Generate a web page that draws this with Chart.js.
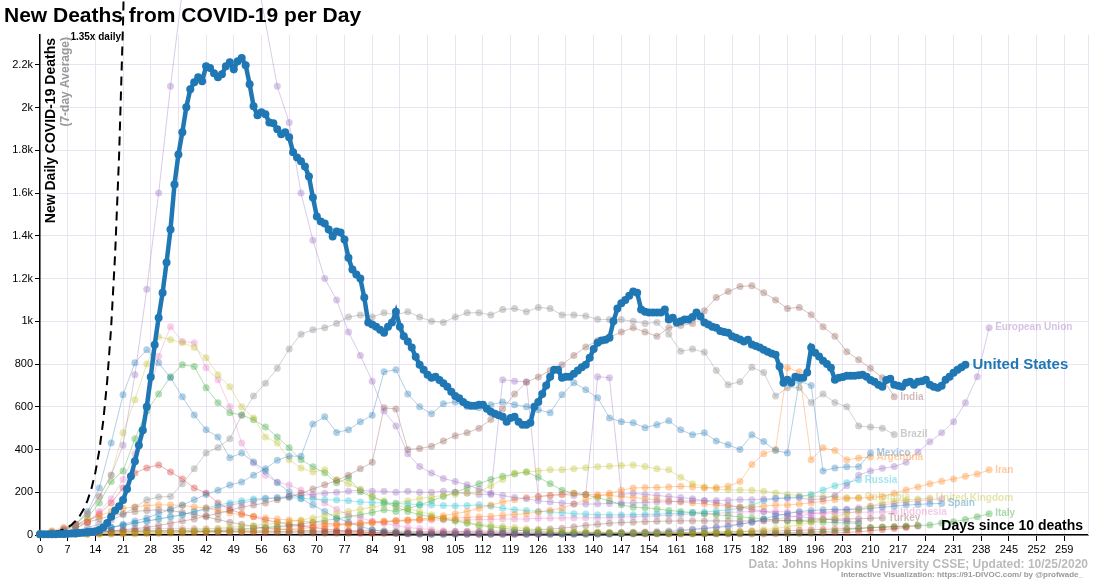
<!DOCTYPE html>
<html>
<head>
<meta charset="utf-8">
<title>New Deaths from COVID-19 per Day</title>
<script src="https://cdn.jsdelivr.net/npm/chart.js@4"></script>
<style>
  html, body { margin: 0; padding: 0; background: #fff; }
  #wrap { position: relative; width: 1108px; height: 580px; }
</style>
</head>
<body>
<div id="wrap"><canvas id="chart" width="1108" height="580"></canvas></div>
<script>
// ===== Data (7-day average of new deaths, by days since 10 deaths)
const X_MAX = 265;
const Y_MAX = 2340;
const X_TICK_STEP = 7;
const Y_TICK_STEP = 200;
const STEP = 3; // other countries: one value every 3 days

// United States, one value per day (day 0..234)
const usDeaths = [
  3, 3, 4, 4, 4, 5, 5, 6, 7, 8,
  9, 11, 13, 15, 18, 23, 35, 56, 85, 115,
  135, 164, 215, 275, 345, 420, 490, 600, 740, 890,
  1017, 1134, 1275, 1430, 1640, 1781, 1885, 2002, 2086, 2119,
  2142, 2124, 2194, 2185, 2161, 2142, 2156, 2194, 2213, 2180,
  2217, 2232, 2199, 2110, 2007, 1964, 1978, 1969, 1931, 1927,
  1899, 1875, 1885, 1861, 1791, 1767, 1749, 1725, 1678, 1580,
  1491, 1467, 1458, 1430, 1397, 1420, 1416, 1383, 1298, 1242,
  1219, 1200, 1111, 994, 985, 975, 961, 947, 975, 994,
  1045, 975, 930, 905, 877, 834, 797, 773, 750, 736,
  741, 725, 710, 694, 670, 650, 640, 623, 609, 605,
  605, 609, 609, 591, 577, 567, 560, 553, 530, 548,
  553, 530, 516, 516, 525, 600, 623, 660, 700, 741,
  773, 773, 736, 741, 741, 755, 770, 785, 797, 830,
  870, 900, 910, 914, 923, 1000, 1060, 1085, 1100, 1120,
  1139, 1134, 1055, 1045, 1041, 1041, 1041, 1041, 1055, 1008,
  1017, 994, 1000, 1008, 1008, 1020, 1041, 1022, 994, 985,
  975, 970, 955, 950, 947, 930, 923, 915, 905, 914,
  891, 885, 877, 867, 858, 850, 844, 788, 713, 727,
  713, 741, 736, 736, 760, 877, 853, 835, 815, 800,
  783, 727, 736, 740, 745, 745, 745, 748, 750, 741,
  725, 717, 703, 694, 725, 731, 703, 699, 694, 713,
  717, 703, 717, 720, 727, 703, 694, 689, 699, 727,
  741, 759, 773, 785, 797
];

// "1.35x daily" reference line, day 0..22
const doublingRef = [4, 6, 8, 11, 15, 20, 27, 36, 48, 65, 88, 119, 161, 217, 293, 396, 535, 722, 975, 1316, 1776, 2398, 3237];

// Other countries, values at day 0, 3, 6, ...
const euDeaths = [
  5, 10, 25, 50, 100, 180, 280, 420, 750, 1150,
  1600, 2100, 2550, 2950, 3200, 3250, 3150, 2950, 2700, 2400,
  2100, 1930, 1600, 1380, 1200, 1100, 950, 840, 720, 580,
  510, 380, 320, 290, 265, 250, 235, 215, 195, 185,
  175, 170, 160, 155, 150, 145, 145, 145, 148, 150,
  150, 152, 155, 155, 158, 160, 160, 162, 163, 165,
  165, 168, 170, 172, 175, 165, 170, 185, 230, 280,
  300, 312, 320, 340, 389, 436, 478, 530, 619, 741,
  970
];
const indiaDeaths = [
  2, 3, 4, 6, 8, 12, 18, 25, 30, 35,
  45, 55, 65, 75, 90, 100, 115, 130, 140, 150,
  165, 180, 195, 215, 235, 255, 280, 310, 340, 595,
  590, 400, 405, 415, 440, 465, 478, 500, 540, 590,
  660, 715, 740, 770, 797, 840, 880, 910, 925, 950,
  970, 950, 930, 970, 980, 990, 1050, 1111, 1139, 1163,
  1167, 1134, 1100, 1060, 1065, 1031, 975, 930, 858, 820,
  780, 736, 647
];
const brazilDeaths = [
  3, 6, 12, 20, 35, 50, 70, 95, 130, 165,
  178, 180, 240, 310, 384, 410, 450, 560, 650, 710,
  780, 870, 940, 960, 970, 990, 1020, 1030, 1020, 1040,
  1030, 1045, 1020, 1000, 995, 1020, 1040, 1040, 1030, 1055,
  1060, 1045, 1065, 1060, 1030, 1030, 1025, 1010, 1008, 1008,
  1000, 990, 995, 940, 860, 870, 855, 770, 703, 717,
  785, 760, 650, 689, 689, 620, 660, 620, 600, 510,
  505, 500, 470
];
const mexicoDeaths = [
  3, 5, 8, 12, 18, 25, 35, 50, 65, 80,
  100, 120, 140, 165, 190, 210, 234, 248, 280, 310,
  350, 370, 368, 520, 553, 480, 492, 530, 560, 764,
  773, 660, 600, 567, 614, 623, 600, 595, 609, 623,
  610, 600, 586, 572, 656, 713, 680, 642, 548, 530,
  525, 502, 516, 535, 492, 469, 478, 440, 422, 400,
  469, 437, 395, 384, 720, 700, 300, 314, 319, 319,
  384
];
const argentinaDeaths = [
  1, 2, 2, 3, 3, 4, 4, 5, 5, 6,
  7, 8, 9, 10, 12, 14, 16, 18, 20, 22,
  25, 28, 30, 35, 40, 45, 50, 55, 60, 65,
  68, 70, 72, 75, 78, 80, 82, 85, 88, 92,
  96, 100, 108, 116, 125, 145, 165, 180, 195, 210,
  220, 222, 222, 225, 228, 225, 220, 222, 228, 250,
  330, 380, 400, 783, 764, 352, 408, 395, 352, 360,
  365
];
const iranDeaths = [
  10, 20, 35, 50, 70, 90, 110, 125, 131, 138,
  141, 141, 138, 131, 127, 115, 103, 95, 88, 80,
  75, 70, 65, 60, 55, 50, 48, 50, 55, 60,
  65, 70, 75, 80, 90, 100, 110, 125, 140, 155,
  165, 175, 180, 185, 190, 195, 190, 188, 185, 180,
  175, 170, 165, 160, 155, 150, 145, 140, 135, 130,
  130, 135, 140, 140, 145, 150, 158, 165, 170, 172,
  176, 180, 195, 211, 225, 240, 252, 262, 275, 285,
  305
];
const russiaDeaths = [
  3, 5, 8, 12, 18, 25, 35, 45, 55, 65,
  75, 85, 95, 110, 125, 140, 150, 160, 168, 172,
  173, 175, 172, 168, 165, 164, 160, 155, 152, 150,
  148, 145, 142, 140, 138, 136, 138, 141, 135, 125,
  118, 115, 110, 108, 105, 100, 98, 95, 95, 94,
  95, 96, 98, 100, 102, 105, 108, 112, 118, 125,
  140, 160, 172, 175, 178, 190, 211, 230, 245, 258
];
const colombiaDeaths = [
  2, 3, 4, 5, 6, 8, 10, 12, 14, 16,
  18, 20, 22, 25, 28, 32, 36, 40, 45, 50,
  55, 62, 70, 80, 90, 100, 110, 120, 130, 140,
  150, 160, 170, 178, 185, 190, 198, 202, 230, 260,
  290, 295, 300, 305, 305, 310, 315, 319, 322, 325,
  328, 320, 310, 305, 270, 240, 225, 215, 211, 211,
  210, 205, 197, 190, 185, 182, 180, 178, 176, 175
];
const ukDeaths = [
  5, 10, 20, 50, 100, 180, 281, 478, 633, 800,
  928, 914, 900, 877, 830, 750, 694, 600, 548, 459,
  431, 352, 314, 295, 305, 260, 240, 215, 180, 160,
  140, 125, 110, 95, 80, 70, 60, 50, 45, 40,
  35, 30, 25, 22, 20, 18, 15, 14, 13, 12,
  12, 12, 12, 11, 11, 11, 12, 13, 14, 15,
  20, 25, 30, 38, 48, 60, 72, 85, 100, 115,
  135, 150, 158, 163, 168, 173
];
const spainDeaths = [
  3, 8, 20, 50, 110, 220, 431, 656, 806, 867,
  806, 736, 647, 562, 492, 459, 361, 384, 342, 300,
  244, 202, 170, 140, 110, 80, 60, 40, 25, 15,
  10, 5, 3, 2, 2, 3, 3, 3, 3, 3,
  3, 3, 3, 3, 3, 3, 3, 4, 5, 6,
  8, 10, 12, 15, 20, 25, 30, 35, 40, 50,
  60, 75, 90, 100, 110, 115, 118, 120, 118, 120,
  125, 130, 135, 140, 143, 146, 148
];
const italyDeaths = [
  5, 10, 20, 40, 80, 150, 250, 300, 450, 580,
  660, 741, 797, 788, 689, 619, 572, 562, 539, 506,
  459, 408, 352, 319, 291, 244, 267, 202, 178, 155,
  131, 110, 95, 85, 75, 65, 55, 45, 38, 32,
  25, 20, 16, 14, 12, 11, 10, 10, 9, 9,
  9, 8, 8, 8, 8, 7, 7, 7, 7, 7,
  8, 9, 10, 11, 12, 14, 16, 18, 25, 30,
  35, 38, 40, 42, 44, 47, 56, 62, 72, 85,
  100
];
const franceDeaths = [
  3, 8, 15, 30, 60, 110, 170, 260, 380, 600,
  836, 975, 905, 900, 783, 727, 600, 431, 337, 280,
  248, 234, 211, 180, 150, 120, 95, 80, 65, 55,
  45, 35, 30, 25, 20, 17, 15, 13, 12, 12,
  12, 12, 12, 12, 12, 12, 12, 12, 12, 13,
  14, 15, 17, 20, 24, 28, 32, 38, 45, 52,
  60, 68, 75, 82, 90, 98, 105, 112, 120, 128,
  135, 140, 148, 155, 160, 165, 170
];
const belgiumDeaths = [
  3, 8, 15, 30, 60, 100, 150, 220, 290, 314,
  328, 295, 262, 220, 197, 150, 120, 100, 85, 70,
  60, 50, 42, 35, 28, 22, 18, 15, 12, 10,
  8, 7, 6, 5, 5, 5, 4, 4, 4, 4,
  4, 4, 4, 4, 5, 5, 5, 5, 5, 5,
  5, 5, 5, 5, 5, 5, 5, 5, 5, 5,
  5, 5, 6, 6, 7, 8, 9, 10, 12, 15,
  20, 25, 30, 35
];
const peruDeaths = [
  3, 5, 8, 12, 18, 25, 35, 45, 55, 65,
  75, 85, 95, 110, 120, 130, 140, 150, 160, 170,
  175, 180, 185, 190, 195, 200, 205, 210, 205, 205,
  200, 205, 200, 200, 205, 200, 195, 190, 190, 727,
  720, 717, 180, 185, 190, 185, 190, 741, 736, 190,
  195, 190, 185, 180, 175, 170, 160, 150, 140, 130,
  120, 110, 100, 90, 85, 80, 75, 70, 65, 60
];
const southAfricaDeaths = [
  1, 2, 3, 4, 5, 6, 7, 8, 9, 10,
  11, 12, 14, 15, 17, 20, 23, 26, 30, 35,
  40, 45, 52, 60, 68, 76, 85, 95, 105, 118,
  110, 125, 140, 160, 180, 200, 220, 240, 260, 275,
  285, 295, 270, 240, 210, 195, 188, 175, 160, 141,
  130, 127, 122, 115, 110, 105, 100, 95, 90, 85,
  80, 75, 70, 68, 65, 62, 60, 58, 56, 55
];
const indonesiaDeaths = [
  3, 6, 10, 12, 15, 18, 20, 22, 25, 28,
  30, 30, 30, 30, 28, 28, 30, 30, 32, 35,
  38, 40, 42, 45, 50, 52, 55, 58, 60, 62,
  65, 65, 68, 70, 70, 70, 70, 72, 72, 75,
  75, 75, 78, 78, 80, 80, 80, 80, 82, 85,
  85, 88, 90, 92, 95, 98, 100, 102, 105, 108,
  110, 110, 110, 108, 105, 103, 102, 103, 105, 106,
  107, 108, 108
];
const turkeyDeaths = [
  5, 15, 30, 45, 60, 75, 90, 100, 110, 115,
  118, 115, 105, 95, 85, 72, 60, 50, 40, 32,
  28, 25, 22, 20, 18, 18, 20, 22, 22, 20,
  18, 17, 16, 15, 15, 16, 17, 18, 18, 19,
  20, 22, 25, 28, 32, 38, 45, 50, 55, 58,
  60, 62, 64, 65, 66, 66, 66, 66, 66, 66,
  65, 65, 66, 67, 68, 70, 72, 74, 75, 76,
  78, 80
];
const otherADeaths = [
  2, 4, 8, 12, 15, 17, 18, 19, 19, 20,
  20, 20, 20, 19, 19, 18, 18, 18, 17, 17,
  16, 16, 15, 15, 14, 14, 13, 13, 12, 12,
  12, 11, 11, 10, 10, 10, 10, 10, 10, 10,
  10, 9, 9, 9, 8, 8, 8, 8, 7, 7,
  7, 7, 7, 7, 7, 8, 8, 8, 9, 9
];
const otherBDeaths = [
  1, 3, 5, 8, 10, 12, 14, 15, 16, 17,
  18, 18, 18, 17, 16, 15, 14, 13, 12, 11,
  10, 10, 9, 9, 8, 8, 8, 7, 7, 7,
  7, 7, 6, 6, 6, 6, 6, 6, 6, 6,
  6, 6, 6, 7, 7, 7, 8, 8, 8, 9,
  9, 10, 10, 11, 12, 12, 13, 14, 15, 16,
  17, 18, 19, 20, 22, 24, 26, 28, 30, 32,
  34, 36, 38, 40, 42
];

// ===== Styling
const FONT = '"Liberation Sans", Arial, Helvetica, sans-serif';
const GRID = '#e9e3f2';
const US_BLUE = '#1f77b4';

const rgba = (hex, a) => {
  const n = parseInt(hex.slice(1), 16);
  return `rgba(${(n >> 16) & 255},${(n >> 8) & 255},${n & 255},${a})`;
};
const toPoints = (vals, step) => vals.map((v, i) => ({ x: i * step, y: v }));
const CLIP = { left: 5, top: false, right: 5, bottom: 5 };

function other(name, vals, hex, label, alpha = 0.35) {
  return {
    label: name,
    data: toPoints(vals, STEP),
    borderColor: rgba(hex, alpha),
    backgroundColor: rgba(hex, alpha),
    pointBackgroundColor: rgba(hex, alpha),
    borderWidth: 1,
    pointRadius: 3.5,
    pointBorderWidth: 0,
    clip: CLIP,
    endLabel: label,
    endColor: rgba(hex, 0.4),
    endFont: 'bold 10px ' + FONT
  };
}

const datasets = [
  {
    label: 'United States',
    data: toPoints(usDeaths, 1),
    borderColor: US_BLUE,
    backgroundColor: US_BLUE,
    pointBackgroundColor: US_BLUE,
    borderWidth: 4.5,
    pointRadius: 4,
    pointBorderWidth: 0,
    clip: CLIP,
    endLabel: 'United States',
    endColor: US_BLUE,
    endFont: 'bold 15px ' + FONT
  },
  {
    label: '1.35x daily',
    data: toPoints(doublingRef, 1),
    borderColor: '#000',
    borderWidth: 2,
    borderDash: [9, 6],
    pointRadius: 0,
    clip: CLIP
  },
  other('European Union', euDeaths, '#9467bd', 'European Union'),
  other('India', indiaDeaths, '#8c564b', 'India'),
  other('Brazil', brazilDeaths, '#7f7f7f', 'Brazil'),
  other('Mexico', mexicoDeaths, '#1f77b4', 'Mexico'),
  other('Argentina', argentinaDeaths, '#ff7f0e', 'Argentina'),
  other('Iran', iranDeaths, '#ff7f0e', 'Iran'),
  other('Russia', russiaDeaths, '#17becf', 'Russia'),
  other('Colombia', colombiaDeaths, '#bcbd22', 'Colombia'),
  other('United Kingdom', ukDeaths, '#bcbd22', 'United Kingdom'),
  other('Spain', spainDeaths, '#1f77b4', 'Spain'),
  other('Italy', italyDeaths, '#2ca02c', 'Italy'),
  other('France', franceDeaths, '#e377c2', null),
  other('Belgium', belgiumDeaths, '#d62728', null),
  other('Peru', peruDeaths, '#9467bd', null),
  other('South Africa', southAfricaDeaths, '#2ca02c', null),
  other('Indonesia', indonesiaDeaths, '#e377c2', 'Indonesia'),
  other('Turkey', turkeyDeaths, '#8c564b', 'Turkey'),
  other('Other A', otherADeaths, '#4f7f2f', null, 0.4),
  other('Other B', otherBDeaths, '#d62728', null)
];

// ===== Overlay texts (title, axis titles, end labels, credits)
const overlay = {
  id: 'overlay',
  afterDraw(chart) {
    const { ctx, chartArea: a } = chart;
    ctx.save();

    // right edge of the plot
    ctx.strokeStyle = GRID;
    ctx.lineWidth = 1;
    ctx.beginPath();
    ctx.moveTo(a.right + 0.5, a.top);
    ctx.lineTo(a.right + 0.5, a.bottom);
    ctx.stroke();

    // end labels
    ctx.textAlign = 'left';
    ctx.textBaseline = 'middle';
    chart.data.datasets.forEach((ds, i) => {
      if (!ds.endLabel) return;
      const pts = chart.getDatasetMeta(i).data;
      const p = pts[pts.length - 1];
      ctx.font = ds.endFont;
      ctx.fillStyle = ds.endColor;
      ctx.fillText(ds.endLabel, p.x + (i === 0 ? 7 : 6), p.y);
    });

    // title
    ctx.textBaseline = 'alphabetic';
    ctx.fillStyle = '#000';
    ctx.font = 'bold 21px ' + FONT;
    ctx.fillText('New Deaths from COVID-19 per Day', 4, 22);

    // reference line note
    ctx.font = 'bold 10px ' + FONT;
    ctx.textAlign = 'right';
    ctx.fillText('1.35x daily', 121, 40);

    // y axis title (inside plot)
    ctx.save();
    ctx.translate(55, 38);
    ctx.rotate(-Math.PI / 2);
    ctx.textAlign = 'right';
    ctx.font = 'bold 14px ' + FONT;
    ctx.fillStyle = '#000';
    ctx.fillText('New Daily COVID-19 Deaths', 0, 0);
    ctx.restore();
    ctx.save();
    ctx.translate(69, 37);
    ctx.rotate(-Math.PI / 2);
    ctx.textAlign = 'right';
    ctx.font = 'bold 12px ' + FONT;
    ctx.fillStyle = '#999';
    ctx.fillText('(7-day Average)', 0, 0);
    ctx.restore();

    // x axis title
    ctx.textAlign = 'right';
    ctx.fillStyle = '#000';
    ctx.font = 'bold 14px ' + FONT;
    ctx.fillText('Days since 10 deaths', 1083, 530);

    // credits
    ctx.fillStyle = '#bbb';
    ctx.font = 'bold 12px ' + FONT;
    ctx.fillText('Data: Johns Hopkins University CSSE; Updated: 10/25/2020', 1088, 568);
    ctx.fillStyle = '#999';
    ctx.font = 'bold 8px ' + FONT;
    ctx.fillText('Interactive Visualization: https://91-DIVOC.com/ by @profwade_', 1083, 577);

    ctx.restore();
  }
};

Chart.defaults.font.family = FONT;
Chart.defaults.color = '#000';

new Chart(document.getElementById('chart'), {
  type: 'line',
  data: { datasets },
  options: {
    responsive: false,
    devicePixelRatio: 1,
    animation: false,
    events: [],
    layout: { padding: { top: 35, right: 20, bottom: 0, left: 0 } },
    elements: { line: { tension: 0 } },
    plugins: { legend: { display: false }, tooltip: { enabled: false } },
    scales: {
      x: {
        type: 'linear',
        min: 0,
        max: X_MAX,
        afterFit: s => { s.height = 45; },
        border: { color: '#000', width: 1.5 },
        grid: { color: GRID, tickColor: '#000', tickLength: 6 },
        ticks: {
          stepSize: X_TICK_STEP,
          includeBounds: false,
          autoSkip: false,
          maxRotation: 0,
          padding: 2,
          color: '#000',
          font: { size: 11 }
        }
      },
      y: {
        min: 0,
        max: Y_MAX,
        afterFit: s => { s.width = 40; },
        border: { color: '#000', width: 1.5 },
        grid: { color: GRID, tickColor: '#000', tickLength: 5 },
        ticks: {
          stepSize: Y_TICK_STEP,
          includeBounds: false,
          padding: 2,
          color: '#000',
          font: { size: 11 },
          callback: v => v >= 1000 ? (v / 1000) + 'k' : v
        }
      }
    }
  },
  plugins: [overlay]
});
</script>
</body>
</html>
